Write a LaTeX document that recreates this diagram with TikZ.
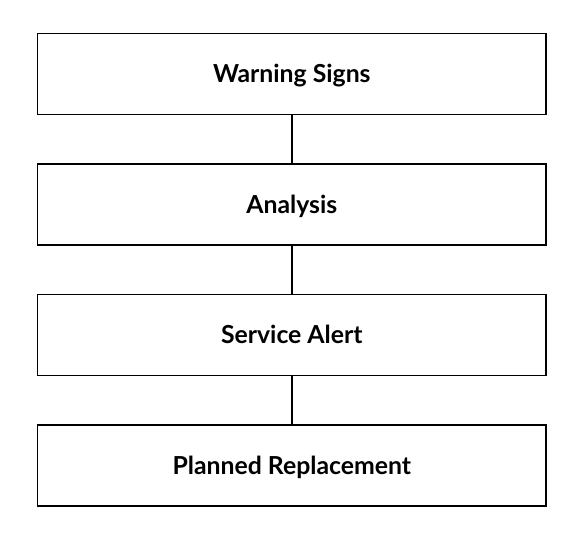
\documentclass[tikz,border=0pt]{standalone}
\usepackage{fontspec}
\setmainfont{Lato}
\usetikzlibrary{positioning}

\begin{document}
\begin{tikzpicture}[
        node distance=48pt,
        every node/.style={font=\fontsize{24.8}{28}\selectfont\bfseries},
        stagebox/.style={draw, line width=1.5pt, minimum width=508.5pt, minimum height=81pt, inner sep=0pt, text height=17.8pt, text depth=0pt},
        link/.style={draw, line width=1.5pt},
        x=1pt,
        y=-1pt
    ]
    \useasboundingbox (0,0) rectangle (580,540);
    \node[stagebox] (warn) at (291.8,74) {Warning Signs};
    \node[stagebox, below=of warn] (anal) {Analysis};
    \node[stagebox, below=of anal] (alert) {Service Alert};
    \node[stagebox, below=of alert] (repl) {Planned Replacement};

    \draw[link] (warn) -- (anal)
    (anal) -- (alert)
    (alert) -- (repl)
    ;
\end{tikzpicture}
\end{document}
